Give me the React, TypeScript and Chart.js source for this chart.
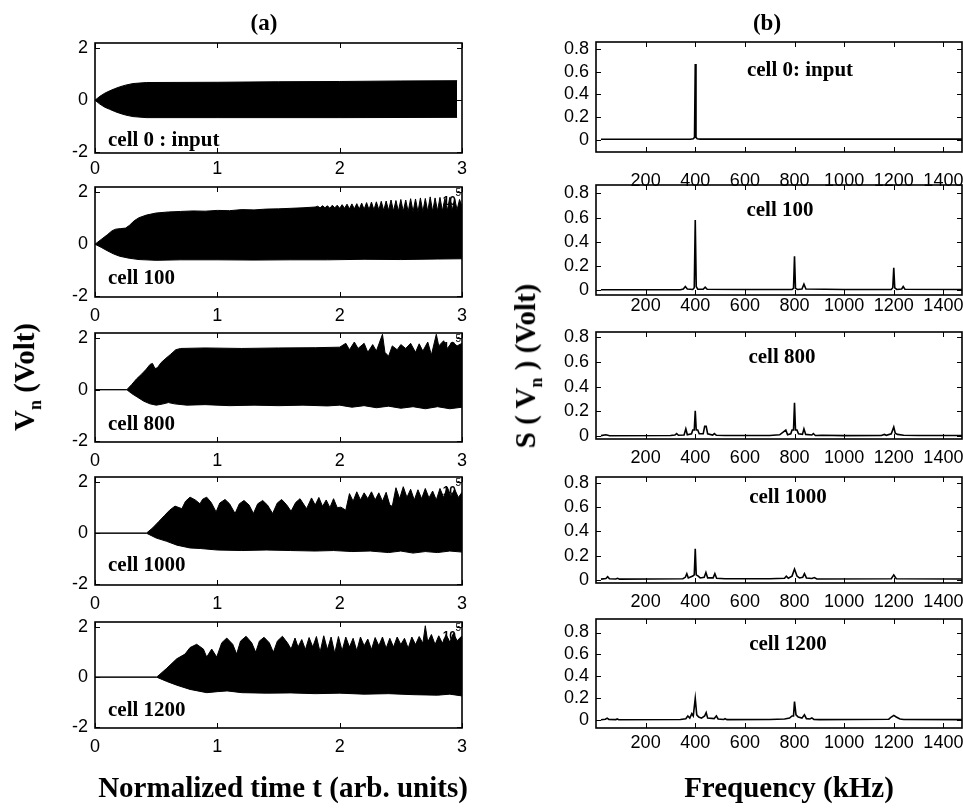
import React, { useEffect, useRef } from "react";
import { Chart, registerables } from "chart.js";

Chart.register(...registerables);

// ---------------- DATA ----------------
const timeTicks = [0, 1, 2, 3];
const timeTickLabels = ["0", "1", "2", "3"];
const voltTicks = [-2, 0, 2];
const voltTickLabels = ["-2", "0", "2"];
const freqTicks = [200, 400, 600, 800, 1000, 1200, 1400];
const freqTickLabels = ["200", "400", "600", "800", "1000", "1200", "1400"];
const specTicks = [0, 0.2, 0.4, 0.6, 0.8];
const specTickLabels = ["0", "0.2", "0.4", "0.6", "0.8"];

const timeNames = ["cell 0 : input", "cell 100", "cell 800", "cell 1000", "cell 1200"];
const specNames = ["cell 0: input", "cell 100", "cell 800", "cell 1000", "cell 1200"];

// time-domain envelopes [t, V]
const cell0Upper = [[0,0],[0.04,0.15],[0.08,0.27],[0.12,0.36],[0.16,0.44],[0.2,0.51],[0.25,0.58],[0.31,0.64],[0.42,0.68],[1.0,0.69],[1.5,0.71],[2.0,0.72],[2.5,0.74],[2.96,0.75]];
const cell0Lower = [[0,0],[0.04,-0.15],[0.08,-0.27],[0.12,-0.35],[0.16,-0.43],[0.2,-0.5],[0.25,-0.57],[0.31,-0.63],[0.42,-0.67],[1.0,-0.67],[2.0,-0.67],[2.96,-0.66]];

const cell100Upper = [[0,0],[0.05,0.18],[0.1,0.36],[0.14,0.52],[0.17,0.58],[0.21,0.6],[0.25,0.62],[0.28,0.72],[0.32,0.9],[0.36,1.02],[0.42,1.12],[0.5,1.2],[0.6,1.24],[0.7,1.26],[0.8,1.28],[0.9,1.27],[1.0,1.3],[1.1,1.29],[1.2,1.33],[1.3,1.32],[1.4,1.35],[1.5,1.36],[1.6,1.38],[1.7,1.4],[1.8,1.43],
  [1.82,1.46],[1.84,1.4],[1.86,1.48],[1.88,1.4],[1.9,1.48],[1.92,1.38],[1.94,1.5],[1.96,1.4],[1.98,1.5],[2.0,1.38],[2.02,1.52],[2.04,1.38],[2.06,1.54],[2.08,1.36],[2.1,1.55],[2.12,1.36],[2.14,1.56],[2.16,1.35],[2.18,1.58],[2.2,1.34],[2.22,1.6],[2.24,1.33],[2.26,1.62],[2.28,1.32],[2.3,1.63],[2.32,1.32],[2.34,1.65],[2.36,1.3],[2.38,1.66],[2.4,1.3],[2.42,1.7],[2.44,1.28],[2.46,1.68],[2.48,1.27],[2.5,1.72],[2.52,1.26],[2.54,1.7],[2.56,1.25],[2.58,1.75],[2.6,1.25],[2.62,1.74],[2.64,1.24],[2.66,1.78],[2.68,1.25],[2.7,1.76],[2.72,1.26],[2.74,1.82],[2.76,1.26],[2.78,1.78],[2.8,1.28],[2.82,1.8],[2.84,1.28],[2.86,1.76],[2.88,1.3],[2.9,1.8],[2.92,1.3],[2.94,1.75],[2.96,1.32],[2.98,1.72],[3.0,1.45]];
const cell100Lower = [[0,0],[0.05,-0.12],[0.1,-0.25],[0.15,-0.37],[0.2,-0.46],[0.28,-0.54],[0.36,-0.59],[0.5,-0.62],[0.7,-0.6],[1.0,-0.6],[1.3,-0.61],[1.6,-0.6],[1.9,-0.6],[2.2,-0.58],[2.5,-0.59],[2.8,-0.57],[3.0,-0.56]];

const cell800Upper = [[0,0],[0.26,0],[0.3,0.2],[0.34,0.42],[0.38,0.6],[0.42,0.8],[0.45,0.98],[0.47,1.02],[0.49,0.82],[0.51,0.85],[0.54,1.05],[0.58,1.22],[0.62,1.38],[0.66,1.55],[0.7,1.6],[0.9,1.62],[1.2,1.6],[1.5,1.62],[1.8,1.63],[2.0,1.65],[2.05,1.8],[2.08,1.55],[2.12,1.85],[2.15,1.6],[2.2,1.8],[2.23,1.45],[2.27,1.75],[2.3,1.5],[2.35,2.15],[2.37,1.45],[2.4,1.3],[2.43,1.7],[2.47,1.55],[2.5,1.75],[2.54,1.6],[2.58,1.8],[2.62,1.45],[2.65,1.78],[2.68,1.5],[2.72,1.85],[2.75,1.35],[2.79,2.15],[2.81,1.7],[2.85,1.9],[2.88,1.6],[2.92,1.85],[2.96,1.7],[3.0,1.8]];
const cell800Lower = [[0,0],[0.26,0],[0.3,-0.15],[0.35,-0.3],[0.4,-0.45],[0.45,-0.55],[0.5,-0.6],[0.55,-0.56],[0.6,-0.5],[0.65,-0.55],[0.75,-0.6],[0.9,-0.58],[1.1,-0.62],[1.3,-0.6],[1.5,-0.62],[1.7,-0.6],[1.9,-0.63],[2.0,-0.6],[2.1,-0.68],[2.2,-0.62],[2.3,-0.7],[2.4,-0.64],[2.5,-0.72],[2.6,-0.66],[2.7,-0.74],[2.8,-0.66],[2.9,-0.74],[3.0,-0.68]];

const cell1000Upper = [[0,0],[0.42,0],[0.47,0.2],[0.52,0.45],[0.57,0.7],[0.61,0.9],[0.654,1.06],[0.71,0.96],[0.74,1.25],[0.777,1.41],[0.82,1.3],[0.858,1.15],[0.88,1.33],[0.913,1.41],[0.95,1.2],[0.99,0.83],[1.02,1.18],[1.063,1.32],[1.1,1.15],[1.145,0.77],[1.18,1.15],[1.218,1.28],[1.26,1.1],[1.295,0.77],[1.33,1.15],[1.371,1.28],[1.41,1.1],[1.452,0.77],[1.49,1.18],[1.526,1.32],[1.565,1.12],[1.603,0.86],[1.64,1.2],[1.676,1.35],[1.71,1.1],[1.73,0.96],[1.77,1.38],[1.8,1.1],[1.83,1.4],[1.86,1.05],[1.89,1.3],[1.92,1.0],[1.95,1.35],[1.98,1.0],[2.01,1.02],[2.05,0.9],[2.08,1.55],[2.11,1.25],[2.14,1.62],[2.17,1.3],[2.2,1.58],[2.23,1.35],[2.26,1.62],[2.29,1.3],[2.32,1.58],[2.35,1.25],[2.38,1.6],[2.41,1.1],[2.43,1.05],[2.46,1.78],[2.49,1.35],[2.52,1.82],[2.55,1.4],[2.58,1.72],[2.61,1.3],[2.64,1.7],[2.67,1.35],[2.7,1.75],[2.73,1.38],[2.76,1.65],[2.79,1.3],[2.82,1.75],[2.85,1.4],[2.88,1.8],[2.91,1.45],[2.94,1.72],[2.97,1.4],[3.0,1.6]];
const cell1000Lower = [[0,0],[0.42,0],[0.5,-0.19],[0.586,-0.32],[0.67,-0.47],[0.777,-0.58],[0.86,-0.6],[1.0,-0.66],[1.2,-0.68],[1.4,-0.66],[1.6,-0.68],[1.8,-0.7],[1.95,-0.68],[2.1,-0.72],[2.25,-0.7],[2.4,-0.76],[2.5,-0.7],[2.6,-0.78],[2.7,-0.72],[2.8,-0.76],[2.9,-0.7],[3.0,-0.74]];

const cell1200Upper = [[0,0],[0.504,0],[0.586,0.35],[0.668,0.73],[0.736,0.92],[0.777,1.18],[0.831,1.31],[0.886,1.12],[0.913,0.8],[0.954,1.12],[0.995,0.8],[1.036,1.37],[1.077,1.56],[1.126,1.31],[1.158,0.92],[1.19,1.44],[1.235,1.63],[1.281,1.37],[1.314,0.99],[1.344,1.44],[1.382,1.59],[1.425,1.37],[1.458,0.99],[1.491,1.44],[1.532,1.63],[1.573,1.37],[1.603,1.12],[1.635,1.56],[1.66,1.2],[1.69,1.5],[1.72,1.1],[1.75,1.58],[1.78,1.2],[1.81,1.62],[1.84,1.0],[1.87,1.65],[1.9,1.1],[1.93,1.6],[1.96,0.95],[1.99,1.62],[2.02,1.05],[2.05,1.6],[2.08,1.2],[2.11,1.55],[2.14,1.05],[2.17,1.6],[2.2,1.25],[2.23,1.52],[2.26,1.1],[2.29,1.58],[2.32,1.25],[2.35,1.6],[2.38,1.15],[2.41,1.55],[2.44,1.2],[2.47,1.6],[2.5,1.3],[2.53,1.55],[2.56,1.15],[2.59,1.6],[2.62,1.3],[2.65,1.62],[2.68,1.35],[2.7,2.05],[2.72,1.4],[2.75,1.7],[2.78,1.3],[2.81,1.65],[2.84,1.35],[2.87,1.7],[2.9,1.4],[2.93,1.75],[2.96,1.45],[3.0,1.65]];
const cell1200Lower = [[0,0],[0.504,0],[0.586,-0.17],[0.668,-0.32],[0.777,-0.49],[0.913,-0.62],[1.0,-0.58],[1.08,-0.55],[1.2,-0.62],[1.4,-0.64],[1.6,-0.63],[1.8,-0.66],[2.0,-0.64],[2.2,-0.68],[2.4,-0.66],[2.6,-0.7],[2.8,-0.72],[2.9,-0.68],[3.0,-0.75]];

// spectra [kHz, S]
const spec0 = [[20,0.003],[380,0.003],[392,0.008],[397,0.02],[400,0.67],[403,0.02],[408,0.008],[420,0.004],[1475,0.004]];
const spec100 = [[20,0.004],[340,0.004],[352,0.01],[360,0.03],[368,0.01],[390,0.006],[396,0.02],[400,0.58],[404,0.03],[410,0.008],[432,0.008],[440,0.025],[448,0.008],[600,0.006],[790,0.006],[796,0.015],[800,0.28],[804,0.015],[812,0.006],[830,0.01],[838,0.05],[846,0.01],[1000,0.006],[1190,0.006],[1196,0.02],[1200,0.185],[1204,0.02],[1212,0.006],[1232,0.01],[1238,0.03],[1245,0.008],[1475,0.006]];
const spec800 = [[20,0.005],[40,0.012],[55,0.004],[300,0.006],[318,0.01],[325,0.022],[332,0.008],[355,0.01],[362,0.06],[368,0.012],[385,0.02],[390,0.05],[396,0.05],[400,0.205],[404,0.05],[410,0.05],[416,0.02],[432,0.02],[438,0.08],[444,0.08],[450,0.02],[470,0.01],[477,0.022],[485,0.008],[520,0.006],[700,0.006],[740,0.012],[765,0.05],[772,0.012],[785,0.02],[790,0.05],[796,0.05],[800,0.27],[804,0.05],[810,0.05],[816,0.02],[832,0.015],[838,0.06],[845,0.015],[870,0.01],[876,0.022],[884,0.006],[910,0.008],[1000,0.005],[1150,0.006],[1162,0.015],[1170,0.008],[1190,0.02],[1200,0.075],[1206,0.025],[1215,0.015],[1240,0.008],[1300,0.006],[1475,0.006]];
const spec1000 = [[20,0.005],[40,0.01],[47,0.025],[54,0.008],[80,0.006],[87,0.012],[95,0.005],[350,0.008],[360,0.02],[366,0.05],[372,0.015],[390,0.03],[396,0.04],[400,0.257],[404,0.04],[412,0.03],[420,0.015],[436,0.02],[443,0.06],[450,0.015],[472,0.015],[479,0.05],[486,0.012],[520,0.008],[700,0.008],[760,0.012],[767,0.03],[775,0.012],[790,0.03],[800,0.088],[810,0.03],[820,0.015],[833,0.02],[840,0.05],[848,0.015],[870,0.01],[880,0.018],[890,0.006],[1190,0.008],[1200,0.04],[1210,0.008],[1475,0.006]];
const spec1200 = [[20,0.005],[38,0.01],[45,0.02],[52,0.008],[80,0.006],[85,0.012],[92,0.005],[340,0.008],[362,0.015],[370,0.04],[378,0.02],[386,0.06],[392,0.04],[400,0.2],[406,0.05],[414,0.03],[425,0.02],[438,0.04],[444,0.07],[450,0.02],[476,0.015],[485,0.04],[492,0.012],[515,0.008],[520,0.015],[528,0.006],[700,0.008],[760,0.012],[780,0.02],[790,0.04],[796,0.04],[800,0.17],[806,0.05],[815,0.03],[830,0.02],[840,0.05],[848,0.015],[862,0.012],[870,0.022],[878,0.008],[900,0.006],[1180,0.01],[1190,0.03],[1200,0.045],[1210,0.03],[1225,0.012],[1240,0.008],[1475,0.006]];

const timeUppers = [cell0Upper, cell100Upper, cell800Upper, cell1000Upper, cell1200Upper];
const timeLowers = [cell0Lower, cell100Lower, cell800Lower, cell1000Lower, cell1200Lower];
const spectra = [spec0, spec100, spec800, spec1000, spec1200];

// ---------------- LAYOUT ----------------
const TIME_LEFT = 95, TIME_RIGHT = 462;
const SPEC_LEFT = 596, SPEC_RIGHT = 962;
const timeRows = [[43, 153], [187, 297], [333, 442], [477, 585], [622, 728]];
const specRows = [[42, 152], [185, 295], [332, 439], [477, 583], [619, 728]];
const timeXPad = [5, 8, 8, 8, 8];
const specXPad = [18, 0, 8, 8, 4];
const timeLabelRise = [7, 13, 12, 14, 12];
const specLabelCx = [204, 184, 186, 192, 192];
const specLabelDrop = [34, 31, 31, 26, 31];
const specRanges = [[-0.11, 0.865], [-0.04, 0.87], [-0.022, 0.84], [-0.027, 0.85], [-0.07, 0.923]];
const YW = 50, PT = 12, XH = 42;

const TICK_FONT = { family: '"Liberation Sans", Arial, sans-serif', size: 18 };

const deco = {
  id: "deco",
  afterDatasetsDraw(chart: any, _a: any, opts: any) {
    const { ctx, chartArea: a, scales } = chart;
    const x = scales.x, y = scales.y;
    ctx.save();
    ctx.strokeStyle = "#000";
    ctx.lineWidth = 1;
    ctx.beginPath();
    for (const t of x.ticks) {
      const p = Math.round(x.getPixelForValue(t.value)) + 0.5;
      ctx.moveTo(p, a.bottom); ctx.lineTo(p, a.bottom - 5);
      ctx.moveTo(p, a.top); ctx.lineTo(p, a.top + 5);
    }
    for (const t of y.ticks) {
      const p = Math.round(y.getPixelForValue(t.value)) + 0.5;
      ctx.moveTo(a.left, p); ctx.lineTo(a.left + 5, p);
      ctx.moveTo(a.right, p); ctx.lineTo(a.right - 5, p);
    }
    ctx.stroke();
    ctx.lineWidth = 1.6;
    ctx.strokeRect(a.left, a.top, a.right - a.left, a.bottom - a.top);
    ctx.fillStyle = "#000";
    ctx.font = 'bold 21px "Liberation Serif", serif';
    ctx.textBaseline = "alphabetic";
    if (opts.kind === "time") {
      ctx.textAlign = "left";
      ctx.fillText(opts.label, a.left + 13, a.bottom - opts.rise);
      if (opts.exp) {
        ctx.font = 'bold 12px "Liberation Sans", sans-serif';
        ctx.textAlign = "right";
        ctx.fillText("10", a.right - 6, a.top + 18);
        ctx.font = '10px "Liberation Sans", sans-serif';
        ctx.fillText("5", a.right - 1, a.top + 9);
      }
    } else {
      ctx.textAlign = "center";
      ctx.fillText(opts.label, a.left + opts.cx, a.top + opts.drop);
    }
    ctx.restore();
  },
};

const pts = (arr: number[][]) => arr.map(([x, y]) => ({ x, y }));

function axisX(min: number, max: number, ticks: number[], labels: string[], pad: number) {
  return {
    type: "linear", min, max,
    grid: { display: false, drawTicks: false }, border: { display: false },
    afterBuildTicks: (s: any) => { s.ticks = ticks.map((v) => ({ value: v })); },
    afterFit: (s: any) => { s.height = XH; s.paddingLeft = 0; s.paddingRight = 0; },
    ticks: { font: TICK_FONT, color: "#000", padding: pad, autoSkip: false, maxRotation: 0,
      callback: (v: any) => labels[ticks.indexOf(Number(v))] ?? "" },
  };
}
function axisY(min: number, max: number, ticks: number[], labels: string[]) {
  return {
    type: "linear", min, max,
    grid: { display: false, drawTicks: false }, border: { display: false },
    afterBuildTicks: (s: any) => { s.ticks = ticks.map((v) => ({ value: v })); },
    afterFit: (s: any) => { s.width = YW; s.paddingTop = 0; s.paddingBottom = 0; },
    ticks: { font: TICK_FONT, color: "#000", padding: 7, autoSkip: false,
      callback: (v: any) => labels[ticks.indexOf(Number(v))] ?? "" },
  };
}

function timeConfig(i: number) {
  return {
    type: "line",
    data: {
      datasets: [
        { data: pts(timeUppers[i]), borderColor: "#000", backgroundColor: "#000", borderWidth: 1, pointRadius: 0, tension: 0, fill: "+1" },
        { data: pts(timeLowers[i]), borderColor: "#000", backgroundColor: "#000", borderWidth: 1, pointRadius: 0, tension: 0, fill: false },
      ],
    },
    options: {
      responsive: false, animation: false, devicePixelRatio: 1,
      layout: { padding: { top: PT, right: 10, bottom: 0, left: 0 } },
      plugins: { legend: { display: false }, tooltip: { enabled: false },
        deco: { kind: "time", label: timeNames[i], rise: timeLabelRise[i], exp: i > 0 } },
      scales: { x: axisX(0, 3, timeTicks, timeTickLabels, timeXPad[i]), y: axisY(-2.03, 2.2, voltTicks, voltTickLabels) },
    },
    plugins: [deco],
  };
}

function specConfig(i: number) {
  return {
    type: "line",
    data: {
      datasets: [
        { data: pts(spectra[i]), borderColor: "#000", borderWidth: 1.6, pointRadius: 0, tension: 0, fill: false },
      ],
    },
    options: {
      responsive: false, animation: false, devicePixelRatio: 1,
      layout: { padding: { top: PT, right: 1, bottom: 0, left: 0 } },
      plugins: { legend: { display: false }, tooltip: { enabled: false },
        deco: { kind: "spec", label: specNames[i], cx: specLabelCx[i], drop: specLabelDrop[i] } },
      scales: { x: axisX(0, 1475, freqTicks, freqTickLabels, specXPad[i]), y: axisY(specRanges[i][0], specRanges[i][1], specTicks, specTickLabels) },
    },
    plugins: [deco],
  };
}

function Panel({ left, top, width, height, make }: any) {
  const ref = useRef<HTMLCanvasElement>(null);
  useEffect(() => {
    const chart = new Chart(ref.current as HTMLCanvasElement, make() as any);
    return () => chart.destroy();
  }, []);
  return (
    <canvas ref={ref} width={width} height={height}
      style={{ position: "absolute", left, top, width, height }} />
  );
}

const serif = '"Liberation Serif", "Times New Roman", serif';

export default function App() {
  return (
    <div style={{ position: "absolute", left: 0, top: 0, width: 963, height: 808, overflow: "hidden", background: "#fff" }}>
      {timeRows.map(([t, b], i) => (
        <Panel key={"t" + i} left={TIME_LEFT - YW} top={t - PT}
          width={YW + (TIME_RIGHT - TIME_LEFT) + 10} height={PT + (b - t) + XH}
          make={() => timeConfig(i)} />
      ))}
      {specRows.map(([t, b], i) => (
        <Panel key={"s" + i} left={SPEC_LEFT - YW} top={t - PT}
          width={YW + (SPEC_RIGHT - SPEC_LEFT) + 1} height={PT + (b - t) + XH}
          make={() => specConfig(i)} />
      ))}
      <div style={{ position: "absolute", left: 264, top: 23, transform: "translate(-50%,-50%)", font: `bold 23px ${serif}`, whiteSpace: "nowrap" }}>(a)</div>
      <div style={{ position: "absolute", left: 767, top: 23, transform: "translate(-50%,-50%)", font: `bold 23px ${serif}`, whiteSpace: "nowrap" }}>(b)</div>
      <div style={{ position: "absolute", left: 283, top: 787, transform: "translate(-50%,-50%)", font: `bold 29px ${serif}`, whiteSpace: "nowrap" }}>Normalized time t (arb. units)</div>
      <div style={{ position: "absolute", left: 789, top: 787, transform: "translate(-50%,-50%)", font: `bold 29px ${serif}`, whiteSpace: "nowrap" }}>Frequency (kHz)</div>
      <div style={{ position: "absolute", left: 27, top: 377, transform: "translate(-50%,-50%) rotate(-90deg)", font: `bold 29px ${serif}`, whiteSpace: "nowrap", lineHeight: 1 }}>
        V<sub style={{ fontSize: 18 }}>n</sub> (Volt)
      </div>
      <div style={{ position: "absolute", left: 528, top: 366, transform: "translate(-50%,-50%) rotate(-90deg)", font: `bold 29px ${serif}`, whiteSpace: "nowrap", lineHeight: 1 }}>
        S ( V<sub style={{ fontSize: 18 }}>n</sub> ) (Volt)
      </div>
    </div>
  );
}
